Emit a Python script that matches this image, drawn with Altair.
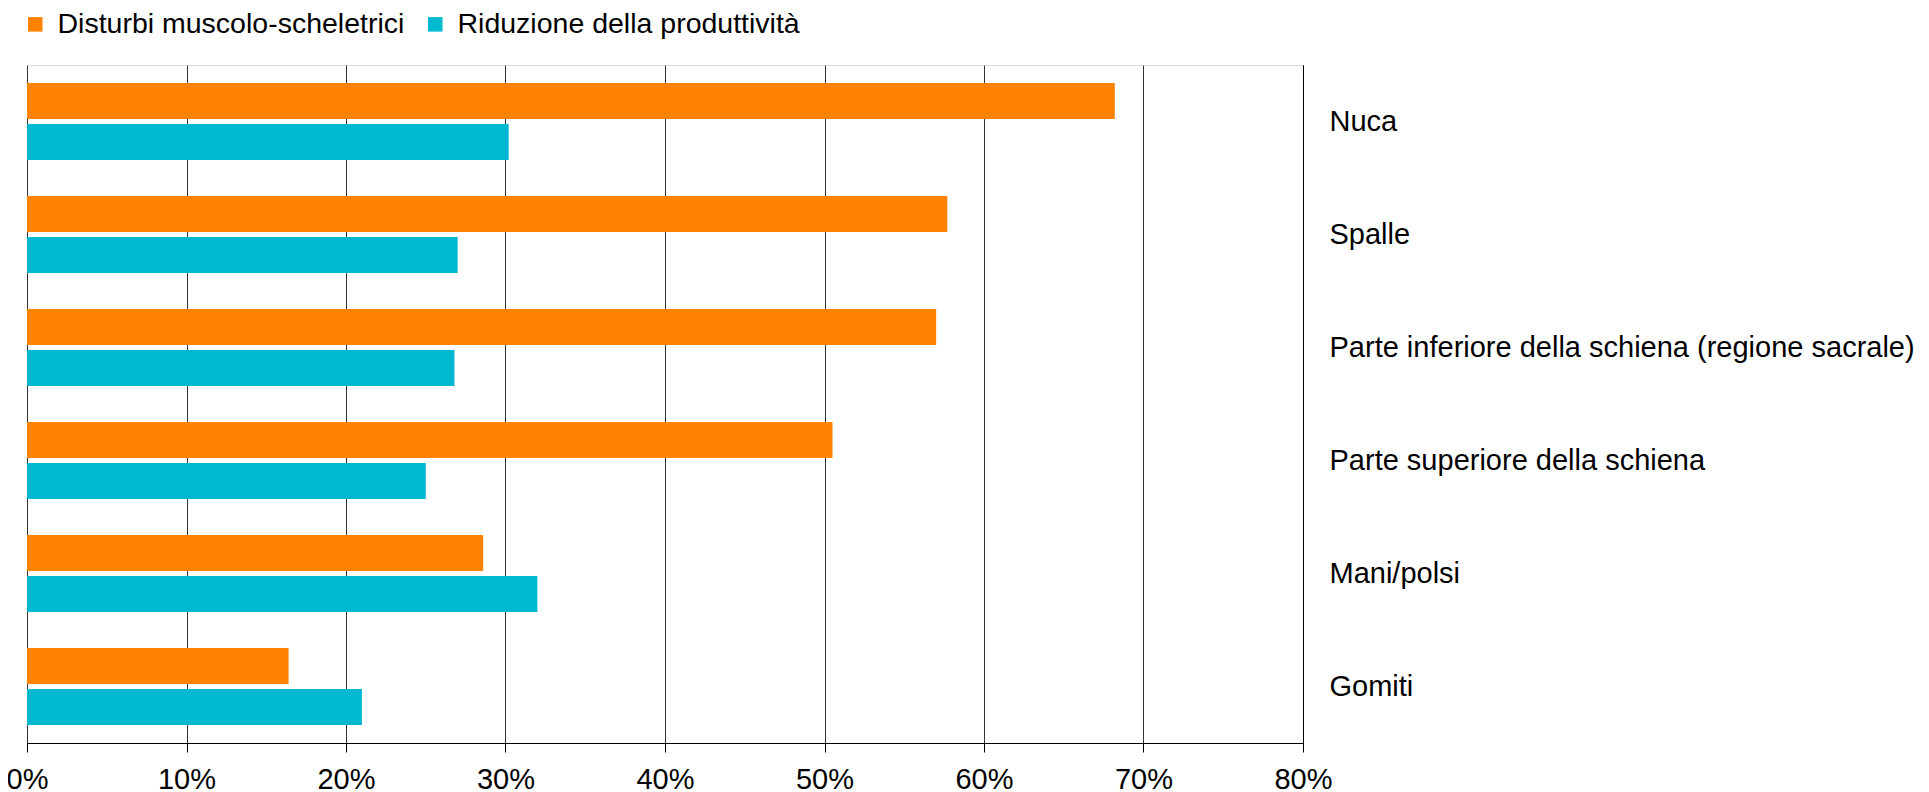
import altair as alt
import pandas as pd

categories = [
    "Nuca",
    "Spalle",
    "Parte inferiore della schiena (regione sacrale)",
    "Parte superiore della schiena",
    "Mani/polsi",
    "Gomiti",
]
series_names = ["Disturbi muscolo-scheletrici", "Riduzione della produttività"]
disturbi = [0.682, 0.577, 0.570, 0.505, 0.286, 0.164]
riduzione = [0.302, 0.270, 0.268, 0.250, 0.320, 0.210]
colors = ["#FF8200", "#00B8D0"]
x_ticks = [0, 0.1, 0.2, 0.3, 0.4, 0.5, 0.6, 0.7, 0.8]

rows = []
for i, c in enumerate(categories):
    rows.append({"cat": c, "serie": series_names[0], "val": disturbi[i]})
    rows.append({"cat": c, "serie": series_names[1], "val": riduzione[i]})
df = pd.DataFrame(rows)

FONT = "Liberation Sans, Arial"

chart = (
    alt.Chart(df)
    .mark_bar()
    .encode(
        x=alt.X(
            "val:Q",
            scale=alt.Scale(domain=[0, 0.8], nice=False),
            axis=alt.Axis(
                values=x_ticks,
                format=".0%",
                title=None,
                grid=True,
                gridColor="#333333",
                gridWidth=1,
                domainColor="#000000",
                tickColor="#000000",
                tickSize=9,
                labelFontSize=29,
                labelFont=FONT,
                labelColor="#000000",
                labelBaseline="alphabetic",
                labelPadding=36,
                labelFlush=False,
            ),
        ),
        y=alt.Y(
            "cat:N",
            sort=categories,
            scale=alt.Scale(paddingInner=0.32, paddingOuter=0.16),
            axis=alt.Axis(
                orient="right",
                title=None,
                ticks=False,
                domain=True,
                domainColor="#000000",
                labelAlign="left",
                labelBaseline="middle",
                labelPadding=26,
                labelFontSize=29,
                labelFont=FONT,
                labelColor="#000000",
                labelLimit=800,
            ),
        ),
        yOffset=alt.YOffset(
            "serie:N",
            sort=series_names,
            scale=alt.Scale(paddingInner=0.12, paddingOuter=0),
        ),
        color=alt.Color(
            "serie:N",
            sort=series_names,
            scale=alt.Scale(domain=series_names, range=colors),
            legend=alt.Legend(
                title=None,
                orient="none",
                direction="horizontal",
                legendX=-6,
                legendY=-55,
                symbolType="square",
                symbolSize=210,
                symbolStrokeWidth=0,
                labelFontSize=28.5,
                labelFont=FONT,
                labelColor="#000000",
                labelOffset=8,
                columnPadding=16,
                padding=0,
                labelLimit=600,
            ),
        ),
    )
    .properties(
        width=1276,
        height=678,
        autosize=alt.AutoSizeParams(type="none"),
        padding={"left": 19, "top": 57, "right": 611, "bottom": 50},
    )
    .configure_view(stroke="transparent", strokeWidth=0)
    .configure(background="#ffffff")
)

chart.save("out.html", embed_options={"renderer": "svg", "actions": False})
